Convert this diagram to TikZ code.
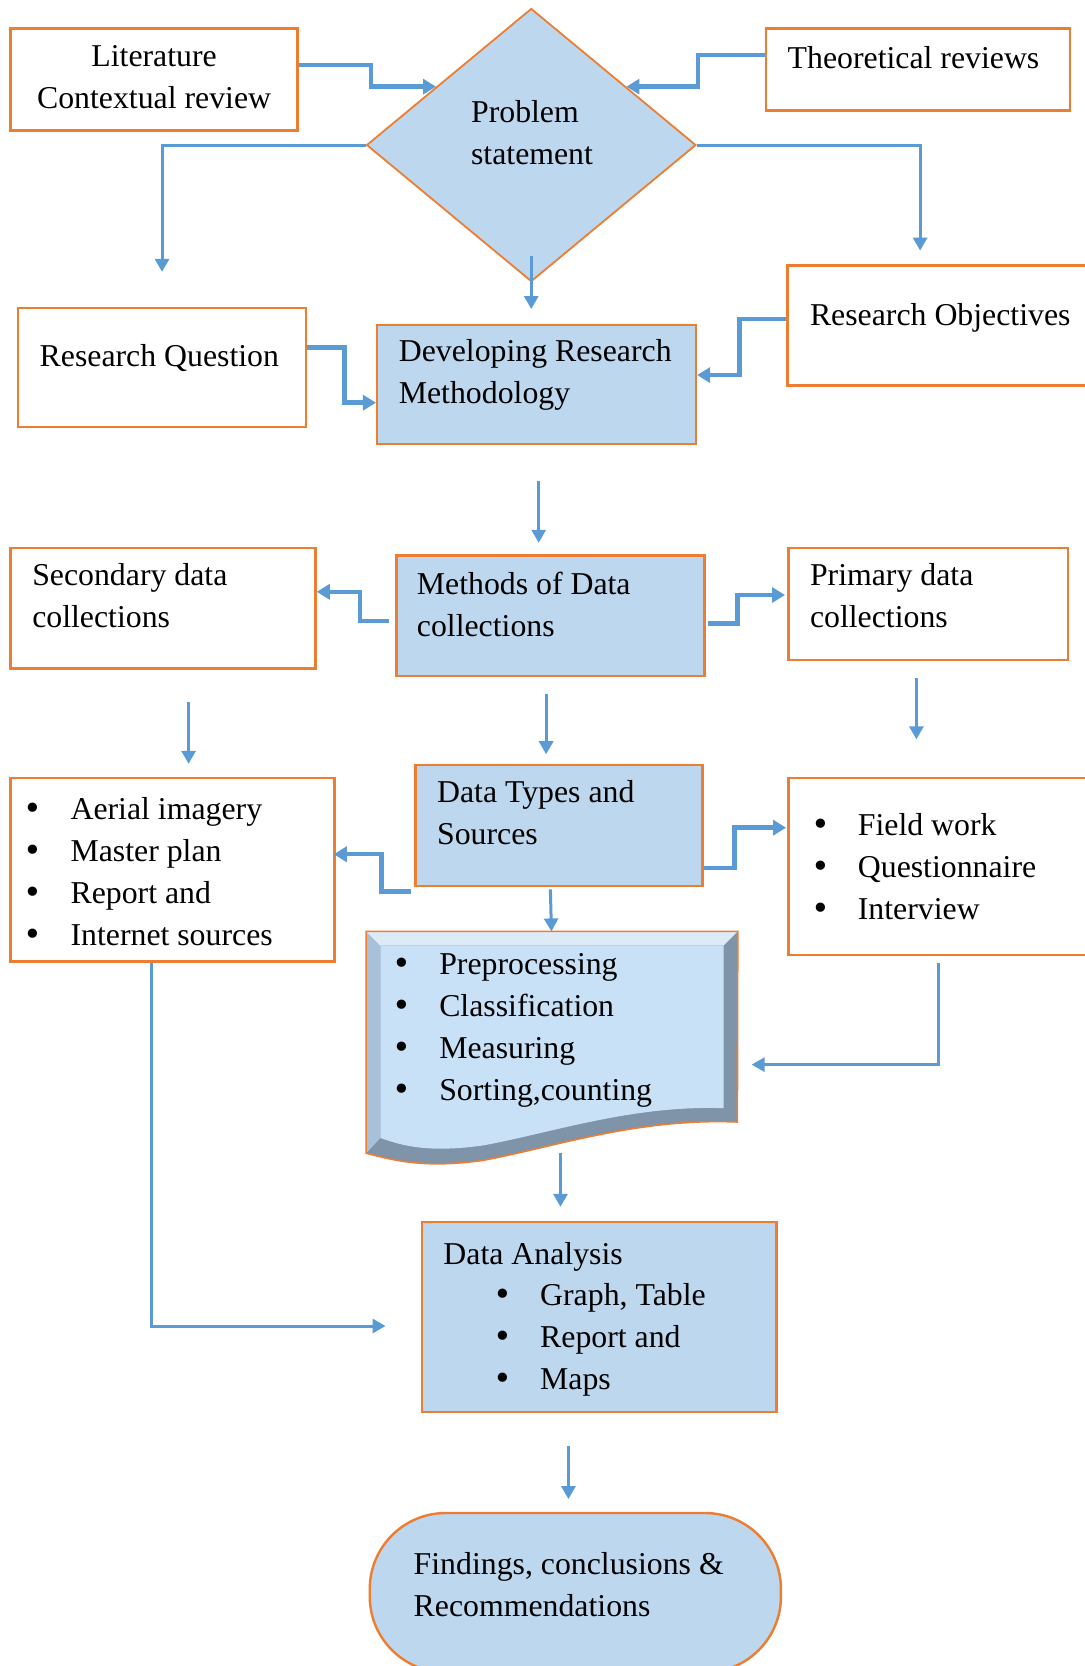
\documentclass[tikz,border=0pt]{standalone}
\usepackage{fontspec}
\setmainfont{Liberation Serif}
\newfontfamily\bulfont{DejaVu Sans}
\usetikzlibrary{arrows.meta, positioning, calc, shapes.geometric}

\definecolor{boxorange}{HTML}{ED7D31}
\definecolor{boxblue}{HTML}{BDD7EE}
\definecolor{arrowblue}{HTML}{5B9BD5}
\definecolor{docfill}{HTML}{C8E1F7}
\definecolor{doclight}{HTML}{DDEBF7}
\definecolor{docmid}{HTML}{A9C1D8}
\definecolor{docdark}{HTML}{7F94A8}

\newcommand{\px}{0.5313pt}
\newcommand{\bul}{\makebox[23.4pt][l]{\bulfont •}}

\tikzset{
  every node/.style={font=\fontsize{15.9}{21}\selectfont},
  box/.style={draw=boxorange, line width=1.2pt, fill=white, inner sep=0pt},
  bluebox/.style={box, fill=boxblue},
  boxsize/.style 2 args={minimum width=#1*\px, minimum height=#2*\px},
  txt/.style={anchor=base west, inner sep=0pt, align=left},
  elbow/.style={draw=arrowblue, line width=2.2pt, -{Triangle[length=6.5pt,width=7.5pt]}},
  arr/.style={draw=arrowblue, line width=1.5pt, -{Triangle[length=6.5pt,width=7pt]}}
}

\begin{document}
\begin{tikzpicture}[x=\px, y=-\px]
    \useasboundingbox (0,0) rectangle (1021,1568);

    \node[box, boxsize={270}{96}] (lit) at (145,75) {};
    \node[diamond, draw=boxorange, fill=boxblue, line width=0.9pt, inner sep=0pt, boxsize={310}{257}] (prob) at (500,136.5) {};
    \node[box, boxsize={286}{77}] (theo) at (864,65.5) {};
    \node[box, boxsize={271}{112}] (rq) at (152.5,346) {};
    \node[bluebox, boxsize={300}{112}] (drm) at (505,362) {};
    \node[box, boxsize={289}{113}] (ro) at (885.5,306.5) {};
    \node[box, boxsize={287}{113}] (sec) at (153.5,572.5) {};
    \node[bluebox, boxsize={290}{113}] (mdc) at (518,579.5) {};
    \node[box, boxsize={263}{105}] (pri) at (873.5,568.5) {};
    \node[box, boxsize={305}{173}] (srcl) at (162.5,818.5) {};
    \node[bluebox, boxsize={270}{114}] (dts) at (526,777) {};
    \node[box, boxsize={283}{167}] (srcr) at (883.5,815.5) {};
    \node[inner sep=0pt, boxsize={349}{208}] (doc) at (519.5,981) {};
    \node[bluebox, boxsize={334}{179}] (da) at (564,1239.5) {};
    \node[bluebox, boxsize={387}{150}, rounded corners=38pt] (fin) at (541.5,1499) {};

    \fill[docdark] (doc.north west) -- (doc.north east) -- (694,1056)
        .. controls (600,1052) and (520,1080) .. (455,1092)
        .. controls (400,1100) and (370,1092) .. (doc.south west) -- cycle;
    \fill[docmid] (doc.north west) -- (358,890) -- (358,1071) -- (doc.south west) -- cycle;
    \fill[doclight] (doc.north west) -- (doc.north east) -- (681,890) -- (358,890) -- cycle;
    \fill[docfill] (358,890) -- (681,890) -- (681,1043)
        .. controls (595,1040) and (520,1066) .. (455,1078)
        .. controls (405,1085) and (380,1079) .. (358,1071) -- cycle;
    \draw[boxorange, line width=0.8pt] (doc.north west) -- (doc.north east) -- (694,1056)
        .. controls (600,1052) and (520,1080) .. (455,1092)
        .. controls (400,1100) and (370,1092) .. (doc.south west) -- cycle;

    \node[txt, align=center, anchor=base] (lit-t) at (145,102) {Literature\\Contextual review};
    \node[txt] (prob-t) at (443,155) {Problem\\statement};
    \node[txt] (theo-t) at (741,64) {Theoretical reviews};
    \node[txt] (rq-t) at (37,345) {Research Question};
    \node[txt] (drm-t) at (375,380) {Developing Research\\Methodology};
    \node[txt] (ro-t) at (762,306) {Research Objectives};
    \node[txt] (sec-t) at (30,591) {Secondary data\\collections};
    \node[txt] (mdc-t) at (392,599) {Methods of Data\\collections};
    \node[txt] (pri-t) at (762,591) {Primary data\\collections};
    \node[txt] (srcl-t) at (22,890) {\bul Aerial imagery\\\bul Master plan\\\bul Report and\\\bul Internet sources};
    \node[txt] (dts-t) at (411,795) {Data Types and\\Sources};
    \node[txt] (srcr-t) at (763,865) {\bul Field work\\\bul Questionnaire\\\bul Interview};
    \node[txt] (doc-t) at (369,1036) {\bul Preprocessing\\\bul Classification\\\bul Measuring\\\bul Sorting,counting};
    \node[txt] (da-t) at (417,1190) {Data Analysis};
    \node[txt] (da-l) at (464,1308) {\bul Graph, Table\\\bul Report and\\\bul Maps};
    \node[txt] (fin-t) at (389,1521) {Findings, conclusions \&\\Recommendations};

    \draw[elbow] ($(lit.east)+(0,-14)$) -- (349,61) |- ($(prob.north)!.575!(prob.west)$);
    \draw[elbow] ($(theo.west)+(0,-13.5)$) -- (657,52) |- ($(prob.north)!.575!(prob.east)$);
    \draw[arr] (prob.west) -| ($(rq.north)+(0,-33)$);
    \draw[arr] (prob.east) -| ($(ro.north)+(-19.5,-13)$);
    \draw[arr] ($(prob.south)+(0,-25)$) -- ($(prob.south |- drm.north)+(0,-14)$);
    \draw[elbow] ($(rq.east)+(0,-19)$) -- ++(35,0) |- ($(drm.west)+(0,17)$);
    \draw[elbow] ($(ro.west)+(0,-6)$) -- ++(-44,0) |- ($(drm.east)+(0,-9)$);
    \draw[arr] ($(drm.south)+(2,34)$) -- ($(drm.south |- mdc.north)+(2,-11)$);
    \draw[elbow] ($(mdc.west)+(-6,5)$) -- ++(-27,0) |- ($(sec.east)+(0,-15.5)$);
    \draw[elbow] ($(mdc.east)+(2,7.5)$) -- ++(28,0) |- ($(pri.west)+(-2,-8.5)$);
    \draw[arr] ($(sec.south)+(24,31)$) -- ($(sec.south |- srcl.north)+(24,-12)$);
    \draw[arr] ($(mdc.south)+(-4,16)$) -- ($(mdc.south |- dts.north)+(-4,-9)$);
    \draw[arr] ($(pri.south)+(-11,16)$) -- ($(pri.south |- srcr.north)+(-11,-35)$);
    \draw[elbow] ($(dts.south west)+(-3,4)$) -- ++(-28,0) |- ($(srcl.east)+(-2,-14.5)$);
    \draw[elbow] ($(dts.east)+(0,40)$) -- ++(29,0) |- ($(srcr.west)+(-1,-36.5)$);
    \draw[arr] ($(dts.south)+(-8,2)$) -- ($(dts.south |- doc.north)+(-7,0)$);
    \draw[arr] ($(srcr.south)+(0,6)$) |- ($(doc.east)+(13,21)$);
    \draw[arr] ($(doc.south)+(8,0)$) -- ($(doc.south |- da.north)+(8,-13)$);
    \draw[arr] ($(srcl.south)+(-19.5,0)$) |- ($(da.west)+(-33,8.5)$);
    \draw[arr] ($(da.south)+(-29,31)$) -- ($(da.south |- fin.north)+(-29,-12)$);
\end{tikzpicture}
\end{document}
